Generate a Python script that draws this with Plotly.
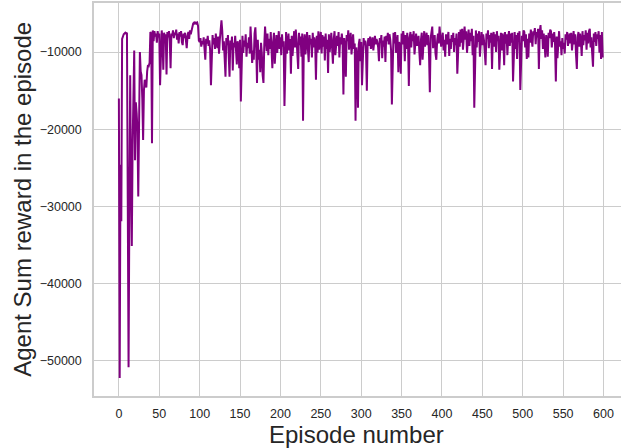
import plotly.graph_objects as go

rewards = [
    -16000, -52200, -24600, -31900, -8300, -7900, -7700, -7600, -7500, -7600,
    -7500, -29000, -50800, -30000, -13000, -26000, -35100, -22000, -17000, -9800,
    -24000, -16500, -17900, -20000, -28700, -18000, -10000, -12500, -13000, -16000,
    -21400, -15000, -13600, -14000, -14600, -12500, -11700, -11800, -11400, -7400,
    -7600, -21800, -7200, -8600, -7300, -8000, -7600, -8800, -7300, -8100,
    -7600, -14300, -7900, -7200, -8300, -12300, -7500, -8400, -7700, -12900,
    -7400, -8100, -7300, -8600, -12100, -7600, -7900, -7200, -8200, -7500,
    -7800, -7100, -8400, -7600, -8900, -7400, -8000, -7300, -8700, -9100,
    -7600, -8200, -7500, -8600, -9500, -7900, -7400, -8300, -7200, -7700,
    -7100, -6800, -6300, -6200, -6400, -6100, -6300, -6200, -6600, -8500,
    -8700, -8200, -9300, -8600, -9000, -8100, -9400, -11000, -8300, -8900,
    -7900, -9200, -8500, -9800, -14300, -8400, -7800, -9000, -8200, -9600,
    -7600, -8800, -9500, -8000, -10200, -8400, -7400, -5900, -7300, -9800,
    -8600, -10400, -13200, -8200, -9100, -7800, -10600, -13200, -8500, -9700,
    -8000, -12400, -8800, -9400, -7900, -10300, -11600, -8600, -9200, -12100,
    -8400, -16400, -9000, -7900, -10100, -8500, -9300, -7700, -10600, -8800,
    -9500, -8100, -10200, -6700, -8900, -11400, -9800, -11000, -7600, -6800,
    -9300, -14000, -8400, -11000, -9700, -12600, -8800, -10200, -13000, -14000,
    -9100, -6700, -8500, -9900, -7600, -10400, -8300, -9600, -7400, -10800,
    -12100, -8700, -7500, -11500, -9200, -7800, -10100, -8400, -7300, -9600,
    -8100, -10400, -7700, -9300, -8600, -17000, -8900, -7400, -10200, -8000,
    -7600, -9800, -8300, -12800, -7900, -10500, -8700, -7300, -9400, -7100,
    -8400, -9900, -12200, -7500, -9100, -8000, -10600, -7600, -18900, -8800,
    -7700, -10300, -8200, -7400, -9600, -11300, -7800, -9000, -8300, -10700,
    -7500, -9400, -8100, -8800, -13600, -7900, -10100, -7300, -9700, -8500,
    -7400, -10200, -7800, -9300, -8000, -11100, -7600, -9600, -8400, -12700,
    -7700, -10000, -8200, -7500, -9500, -11500, -8300, -7300, -10400, -8600,
    -7900, -9200, -7400, -10700, -8100, -9000, -7600, -8800, -15500, -8200,
    -9400, -13200, -7800, -8600, -7200, -9700, -8000, -7500, -10300, -8400,
    -7700, -9600, -8900, -18900, -9400, -10600, -17200, -9000, -8300, -11200,
    -8700, -14300, -9000, -8200, -9100, -8500, -10000, -15000, -8800, -8200,
    -9200, -8000, -9600, -8400, -8100, -9800, -8600, -7900, -9000, -8300,
    -8700, -9400, -11200, -8200, -8800, -7800, -10800, -8500, -9300, -8000,
    -11300, -7900, -8600, -7500, -9000, -7700, -8400, -9800, -16800, -8200,
    -7500, -8900, -7400, -10100, -8300, -7800, -12600, -8700, -9500, -12800,
    -7600, -9000, -7300, -8200, -11200, -7800, -9600, -7500, -8900, -14400,
    -8100, -7400, -9400, -7700, -8600, -7300, -10300, -8000, -7600, -9200,
    -8300, -7900, -10000, -11700, -8400, -7500, -11000, -8700, -7300, -9300,
    -8000, -7500, -9100, -7800, -10400, -15200, -8200, -7400, -6700, -9500,
    -8100, -7800, -10200, -11000, -8600, -7600, -8900, -6700, -7900, -9300,
    -8200, -7500, -9800, -8400, -10600, -7700, -9000, -8100, -7400, -10500,
    -8300, -9600, -7800, -8700, -7500, -10000, -8200, -9100, -7600, -12800,
    -8500, -7400, -9300, -7100, -8800, -7000, -9700, -7600, -6700, -8400,
    -7300, -10100, -7800, -7100, -9200, -7500, -8600, -7000, -10400, -7900,
    -17200, -8100, -7200, -9400, -7600, -8700, -7300, -10600, -8000, -7400,
    -9100, -7700, -8500, -9900, -11700, -7600, -8300, -7200, -9500, -7800,
    -8800, -7500, -12200, -8000, -7400, -9300, -7700, -10000, -7300, -8600,
    -7900, -12300, -8400, -7500, -9800, -7600, -8300, -11700, -7400, -8900,
    -7700, -10400, -8100, -7300, -9200, -7600, -8800, -7500, -13800, -8400,
    -7400, -9600, -7800, -10900, -7500, -8700, -7300, -14900, -11600, -7900,
    -8600, -7200, -7400, -9400, -7700, -10900, -8300, -10700, -7600, -8800,
    -7100, -8500, -9300, -7300, -7800, -6900, -9000, -7400, -8100, -7000,
    -12200, -7500, -6500, -8300, -7200, -9600, -7600, -8900, -10700, -7800,
    -8500, -10600, -7500, -8200, -7100, -7300, -9400, -7600, -8700, -7400,
    -9100, -13800, -8000, -10800, -7600, -7300, -9300, -8600, -10400, -8200,
    -9600, -8800, -10200, -7700, -8400, -7400, -9200, -8000, -7600, -8900,
    -7500, -9800, -8300, -7300, -9000, -7700, -10400, -12200, -8100, -7400,
    -9300, -7600, -8600, -10500, -7300, -9100, -7800, -8500, -7200, -9700,
    -7500, -8900, -7300, -7000, -9400, -8100, -10200, -11900, -7600, -8700,
    -7400, -9200, -7700, -8300, -7300, -10100, -7800, -10900, -7400, -10700,
]
episodes = list(range(len(rewards)))

x_ticks = [0, 50, 100, 150, 200, 250, 300, 350, 400, 450, 500, 550, 600]
y_ticks = [-50000, -40000, -30000, -20000, -10000]
y_tick_labels = ["\u221250000", "\u221240000", "\u221230000", "\u221220000", "\u221210000"]

x_title = "Episode number"
y_title = "Agent Sum reward in the episode"

font_family = "Liberation Sans, Arial, Helvetica, sans-serif"
grid_color = "#cccccc"
text_color = "#262626"

fig = go.Figure()
fig.add_trace(go.Scatter(
    x=episodes, y=rewards, mode="lines",
    line=dict(color="#800080", width=2),
    hoverinfo="skip",
))

fig.update_layout(
    width=624, height=448,
    margin=dict(l=94, r=0, t=3, b=52),
    paper_bgcolor="white", plot_bgcolor="white",
    showlegend=False,
    font=dict(family=font_family, color=text_color, size=12.5),
    xaxis=dict(
        range=[-30.8, 622.9],
        tickvals=x_ticks,
        ticktext=[str(v) for v in x_ticks],
        showgrid=True, gridcolor=grid_color, gridwidth=1.2,
        zeroline=False,
        showline=True, mirror=True, linecolor=grid_color, linewidth=1.5,
        ticks="", ticklabelstandoff=5,
        tickfont=dict(size=12.5, color=text_color),
    ),
    yaxis=dict(
        range=[-54535, -3651],
        tickvals=y_ticks,
        ticktext=y_tick_labels,
        showgrid=True, gridcolor=grid_color, gridwidth=1.2,
        zeroline=False,
        showline=True, mirror=True, linecolor=grid_color, linewidth=1.5,
        ticks="", ticklabelstandoff=8,
        tickfont=dict(size=12.5, color=text_color),
    ),
    annotations=[
        dict(text=x_title, xref="paper", yref="paper", x=(357.5 - 94) / 530, y=-0.097,
             xanchor="center", yanchor="middle", showarrow=False,
             font=dict(size=24, color=text_color, family=font_family)),
        dict(text=y_title, xref="paper", yref="paper", x=(22 - 94) / 530, y=0.5,
             xanchor="center", yanchor="middle", showarrow=False, textangle=-90,
             font=dict(size=24, color=text_color, family=font_family)),
    ],
)

fig.write_html(
    "out.html",
    config={"displayModeBar": False},
    post_script="document.body.style.margin='0px';document.body.style.overflow='hidden';",
)
